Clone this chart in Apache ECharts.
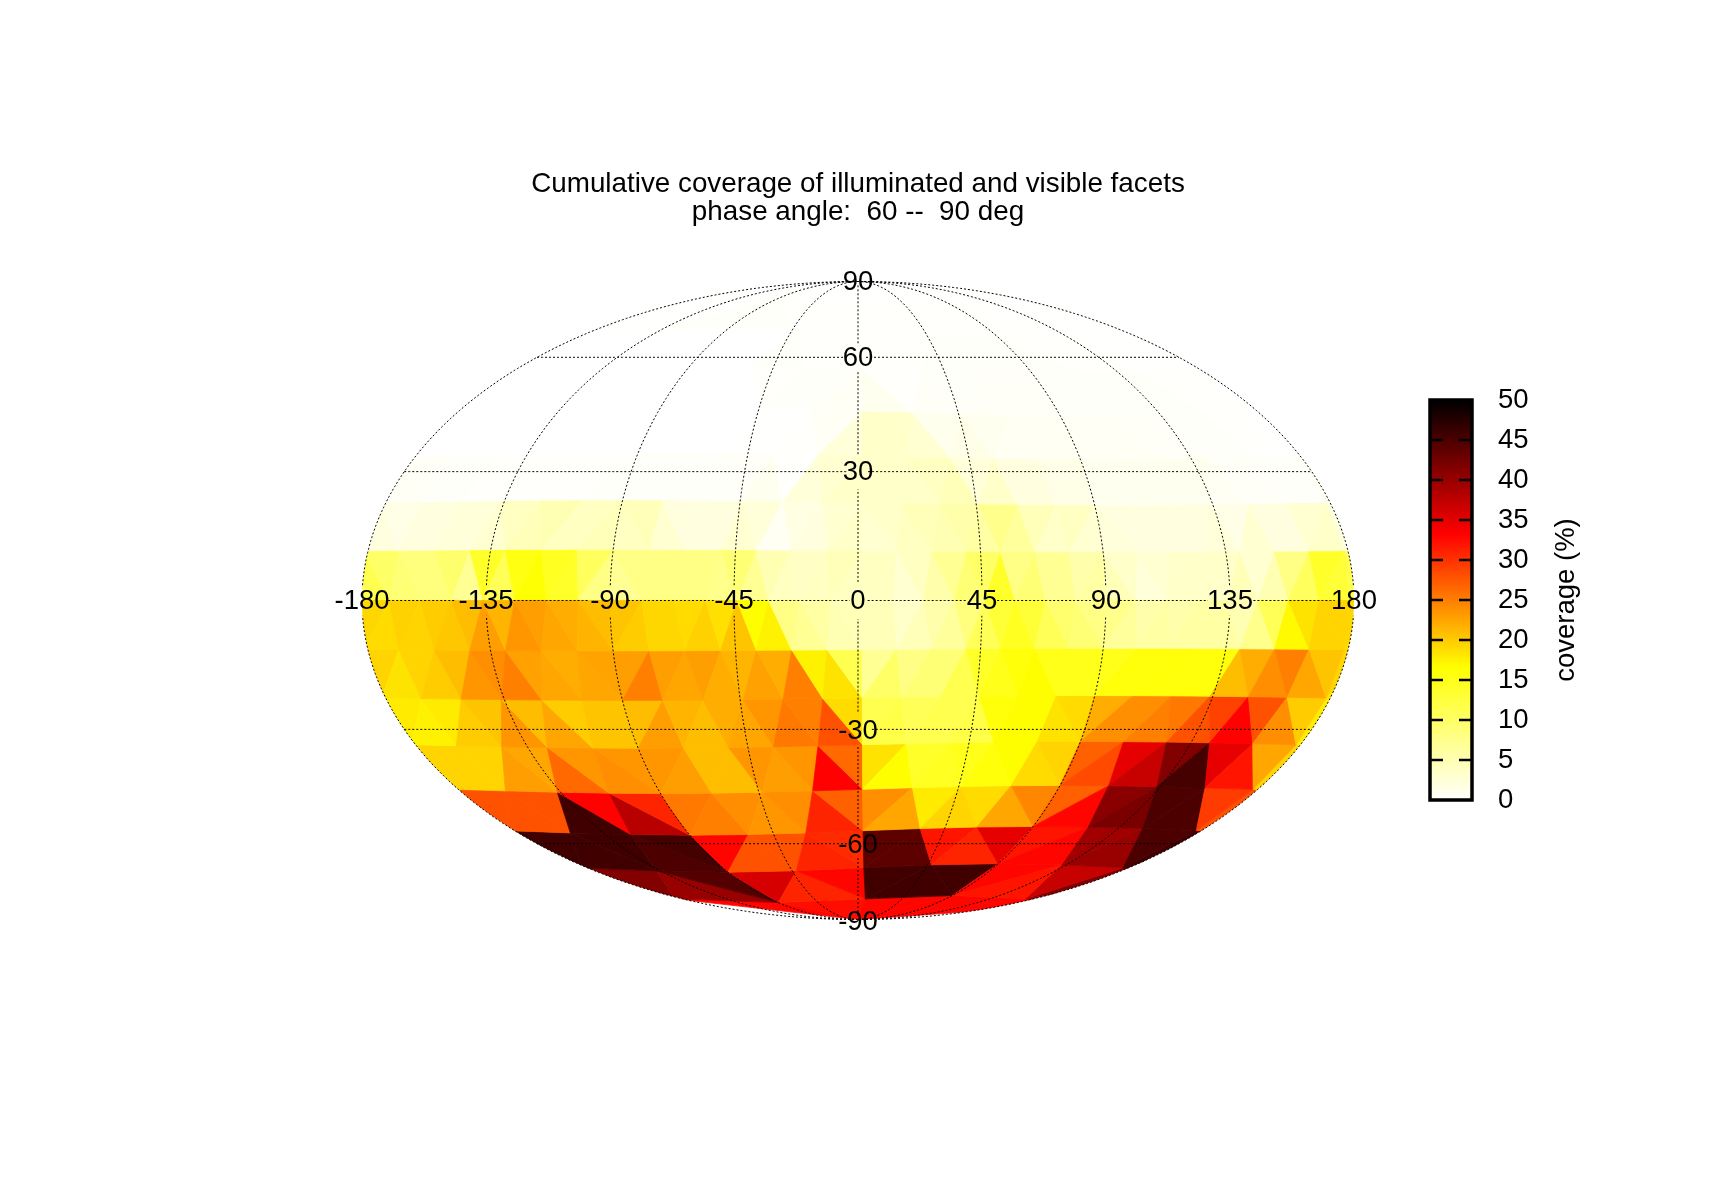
<!DOCTYPE html>
<html><head><meta charset="utf-8">
<style>html,body{margin:0;padding:0;background:#fff}#c{width:1716px;height:1200px}</style>
<script src="https://cdn.jsdelivr.net/npm/echarts@6/dist/echarts.min.js"></script>
</head><body><div id="c"></div>
<script>
// Facet coverage (%), by latitude band (k = 1 at the pole ... 8 at the equator), west to east.
const north1=[.1,.1,.1,.1];
const north2=[.1,.1,.4, .3,.2,.2, .2,.2,.2, .2,.1,.1];
const north3=[0,0,0,0,0, 0,0,.3,.2,.2, .2,.2,.3,.4,.4, .3,.2,.2,.1,.1];
const north4=[0,0,0,0,0,0,0, 0,0,0,.2,.3,.4,.6, 1,.2,.5,.3,.5,.5,.5, .4,.4,.4,.3,.3,.2,.2];
const north5=[0,0,0,0,0,0,0,0,0, 0,0,0,0,.1,.1,.2,.6,2.5, 3.5,3.5,3,1.2,1.5,1,.8,.7,.7, .6,.6,.6,.5,.5,.4,.3,.2,.1];
const north6=[.6,.5,.3,.3,.2,.2,.2,.2,.2,.2,.3, .3,.3,.3,.3,.4,.5,1,.2,2.5,3,3.5, 3.5,3.5,3.5,4,4.5,2.5,3.5,2,2,1.5,1.5, 1,1,1,1,1,1,.8,.5,.5,.3,.3];
const north7=[2,1.5,2,2,2.5,2.5,3,4,4.5,5,4,4,4.5, 4,4.5,3,2,2,2,3,2.5,.7,1.8,2,3,3.5, 3,3.5,4,4.5,5,5.5,6,7.5,6.5,4.5,3.5,4,3, 2.5,2,2,2,2,2,2.5,1.5,3,2,2,3,3.5];
const north8=[11.5,10,9,8.5,8.5,9.5,7,14,11,15.5,16.5,14.5,14,10.5,8, 7,8,8,8,8,8,7.5,9,7,5,4,3.8,4,4.5,4, 4,4,3,4,5.5,7,9,10,14,8,9,7,7,5.5,6, 4.5,3.5,2.5,3,3.5,3.5,3.5,3.5,4.5,3,5,8,10.5,14,13];
const south8=[19.3,19,19.7,19.5,20,20.3,21,23,21.5,23.5,23,22.5,22,21.5,21, 20.5,20,19.3,19.3,19,19.7,18.7,20.5,16.7,17.5,8,7,6,5,4.7, 4.5,4.5,3.5,4.5,5.5,6.5,8.5,11,13,14.5,13,11,9.5,9,8, 7.5,6.5,5.5,6,5.5,6,6,6,5,7.5,11,17,18.5,19.5,19.5];
const south7=[19.5,18.5,19.5,20,21,23.5,24,25,22.8,22.5,22,22.5,22.7, 23,25,23,22.5,23,22,21.5,22.8,22,25,17.5,18.5,11.5, 7,10,8,9,9,11.5,14,15,16,16.7,15,15,15, 15,16,16,16,16,16,16,21,22,24,25,22.5,20.5];
const south6=[18,17.5,18,20,20.5,23.5,21,22.5,20,20.5,20.5, 21,23,21.5,21,22,22.5,23.5,25.5,25,28,19, 11.5,12,11,11.5,11.5,12,16,16.7,16.7,18.5,19, 22,24,24,25,25.5,28,29,33.3,28,24,20];
const south5=[19.5,19.5,19.5,23,22.5,26.5,23.5,24,23.5, 23.5,23,21,21,23.5,23,23.5,33.3,26.5, 18.5,16.7,14,14.5,15,16,16.7,19,19.5, 27,28.5,35,37,41.5,45.5,35,32,22.5];
const south4=[28,28,28,45.8,33.3,38,31, 25.5,25,24,23.5,24,31,27, 24,22.5,18,19.5,19,22.5,24.5, 27,33,41,42,45,45,29.5];
const south3=[45.8,45.8,45.8,45,45.5, 33,28,28,31,30.5, 44,44,32,31,35, 32,33,39.5,40,45];
const south2=[41.5,40,44.5, 36,31,33, 45.8,45.8,45.8, 33,32,37];
const south1=[33,32.5,33,33];
const northBands=[north1,north2,north3,north4,north5,north6,north7,north8];
const southBands=[south1,south2,south3,south4,south5,south6,south7,south8];

const titleLines=['Cumulative coverage of illuminated and visible facets','phase angle:  60 --  90 deg'];
const lonTicks=[-180,-135,-90,-45,0,45,90,135,180];
const latTicks=[90,60,30,-30,-60,-90];
const parallels=[60,30,0,-30,-60];
const meridians=[-180,-135,-90,-45,0,45,90,135,180];
const colorTicks=[0,5,10,15,20,25,30,35,40,45,50];
const colorName='coverage (%)';
const meshOffset=0.026; // the facet mesh centre sits slightly off the map centre

const D=Math.PI/180, XM=2*Math.SQRT2, YM=Math.SQRT2;
function thetaOf(lat){
  if(Math.abs(lat)>=90) return Math.sign(lat)*Math.PI/2;
  const t=Math.PI*Math.sin(lat*D); let a=lat*D;
  for(let i=0;i<60;i++){const f=2*a+Math.sin(2*a)-t, d=2+2*Math.cos(2*a); if(Math.abs(d)<1e-9)break; a-=f/d; a=Math.max(-Math.PI/2,Math.min(Math.PI/2,a));}
  return a;
}
function moll(lon,lat){const a=thetaOf(lat);return [XM*(lon/180)*Math.cos(a),YM*Math.sin(a)];}
function shift(lon,lat){
  const x=Math.cos(lat*D)*Math.cos(lon*D),y=Math.cos(lat*D)*Math.sin(lon*D)+meshOffset,z=Math.sin(lat*D);
  let l=Math.atan2(y,x)/D; while(l-lon>180)l-=360; while(l-lon<-180)l+=360;
  return [l,Math.atan2(z,Math.hypot(x,y))/D];
}
function vert(k,i,sign){ // ring k, vertex i
  const lat=sign*(90-11.25*k);
  if(k===0) return [0,lat];
  return shift(-180+i*90/k,lat);
}
const triangles=[];
function pushTri(a,b,c,v){
  const lo=Math.min(a[0],b[0],c[0]),hi=Math.max(a[0],b[0],c[0]);
  [0,360,-360].forEach(sh=>{
    if(sh===360&&lo>=-180)return; if(sh===-360&&hi<=180)return;
    const p=moll(a[0]+sh,a[1]),q=moll(b[0]+sh,b[1]),r=moll(c[0]+sh,c[1]);
    triangles.push([p[0],p[1],q[0],q[1],r[0],r[1],v]);
  });
}
[[northBands,1],[southBands,-1]].forEach(([bands,sign])=>{
  bands.forEach((vals,bi)=>{
    const k=bi+1;let n=0;
    for(let q=0;q<4;q++)for(let j=0;j<k;j++){
      const e0=vert(k,q*k+j,sign),e1=vert(k,q*k+j+1,sign);
      const p0=vert(k-1,q*(k-1)+j,sign);
      pushTri(e0,e1,p0,vals[n++]);
      if(j<k-1){const p1=vert(k-1,q*(k-1)+j+1,sign);pushTri(p0,p1,e1,vals[n++]);}
    }
  });
});
function hot(v){
  const t=Math.max(0,Math.min(1,v/50))*3; let r,g,b;
  if(t<1){r=1;g=1;b=1-t;} else if(t<2){r=1;g=2-t;b=0;} else {r=3-t;g=0;b=0;}
  return `rgb(${Math.round(r*255)},${Math.round(g*255)},${Math.round(b*255)})`;
}
// graticule: broken where a tick label sits
const eqBreaks=[[-180,-170.6],[-145.9,-125.2],[-97.3,-83.5],[-51.9,-38.1],[-2.9,3.3],[39.6,50.4],[84.9,95],[127,143.4],[173,180]];
const latBreaks={'60':[-5.5,4.5],'30':[-4.5,4],'-30':[-8,5.5],'-60':[-6,3]};
function parallelLine(lat){
  const o=[];
  for(let l=-180;l<=180;l+=0.5){
    const gap = lat===0 ? eqBreaks.some(g=>l>g[0]&&l<g[1]) : (l>latBreaks[lat][0]&&l<latBreaks[lat][1]);
    o.push(gap?[null,null]:moll(l,lat));
  }
  return o;
}
function meridianLine(lon){
  const o=[];
  for(let p=-90;p<=90;p+=0.25){
    let gap;
    if(lon===0) gap=[90,60,30,0,-30,-60,-90].some(t=>Math.abs(p-t)<(Math.abs(t)>=90?3:4.2));
    else gap=Math.abs(p)<3.3;
    o.push(gap?[null,null]:moll(lon,p));
  }
  return o;
}
const dotted={color:'#000',width:1,type:[2,2]};
const lineSeries=[];
parallels.forEach(l=>lineSeries.push({type:'line',data:parallelLine(l),symbol:'none',lineStyle:dotted,silent:true,z:5,connectNulls:false}));
meridians.forEach(l=>lineSeries.push({type:'line',data:meridianLine(l),symbol:'none',lineStyle:dotted,silent:true,z:5,connectNulls:false}));
const tickLabels=lonTicks.map(l=>({value:[...moll(l,0),String(l)]}))
  .concat(latTicks.map(l=>({value:[...moll(0,l),String(l)],label:{offset:[0,l===-90?3:(l<0?2:1)]}})));
const barLevels=[];for(let i=0;i<200;i++)barLevels.push(i*0.25);

const FS=27.5, FF='"Liberation Sans",Helvetica,Arial,sans-serif';
const chart=echarts.init(document.getElementById('c'),null,{renderer:'canvas',width:1716,height:1200});
chart.setOption({
  animation:false,backgroundColor:'#fff',
  title:{text:titleLines.join('\n'),left:853,top:165,textAlign:'center',
    textStyle:{fontFamily:FF,fontSize:27.8,fontWeight:'normal',color:'#000',lineHeight:28}},
  grid:[
    {left:362,top:281.5,width:992,height:638,show:false},
    {left:1430,top:400,width:42,height:400,show:true,borderColor:'#000',borderWidth:3.5,backgroundColor:'transparent',z:6}
  ],
  xAxis:[
    {gridIndex:0,type:'value',min:-XM,max:XM,show:false},
    {gridIndex:1,type:'value',min:0,max:1,show:false}
  ],
  yAxis:[
    {gridIndex:0,type:'value',min:-YM,max:YM,show:false},
    {gridIndex:1,type:'value',min:0,max:50,interval:5,position:'right',
     axisLine:{show:false},axisTick:{show:false},
     axisLabel:{show:true,margin:26,fontFamily:FF,fontSize:FS,color:'#000',padding:[4,0,0,0],
       verticalAlignMinLabel:'middle',verticalAlignMaxLabel:'middle',
       customValues:colorTicks,formatter:v=>String(v)},
     splitLine:{show:false},
     name:colorName,nameLocation:'middle',nameRotate:90,nameGap:80,
     nameTextStyle:{fontFamily:FF,fontSize:FS,color:'#000'},z:7}
  ],
  series:[
    {type:'custom',xAxisIndex:0,yAxisIndex:0,data:triangles,coordinateSystem:'cartesian2d',silent:true,z:1,
     encode:{x:0,y:1},
     renderItem:(p,api)=>{
       const c0=api.coord([0,0]),cx=api.coord([XM,YM]);
       const a=api.coord([api.value(0),api.value(1)]),b=api.coord([api.value(2),api.value(3)]),d=api.coord([api.value(4),api.value(5)]);
       const col=hot(api.value(6));
       return {type:'polygon',shape:{points:[a,b,d]},style:{fill:col,stroke:col,lineWidth:0.8},
         clipPath:{type:'ellipse',shape:{cx:c0[0],cy:c0[1],rx:cx[0]-c0[0],ry:c0[1]-cx[1]}}};
     }},
    ...lineSeries,
    {type:'scatter',xAxisIndex:0,yAxisIndex:0,data:tickLabels,symbolSize:0,silent:true,z:8,itemStyle:{opacity:1},
     label:{show:true,position:'inside',offset:[0,1],fontFamily:FF,fontSize:FS,color:'#000',opacity:1,formatter:p=>p.value[2]}},
    {type:'custom',xAxisIndex:1,yAxisIndex:1,data:barLevels.map(v=>[0,v]),silent:true,z:2,encode:{x:0,y:1},
     renderItem:(p,api)=>{
       const v=api.value(1),a=api.coord([0,v+0.25]),b=api.coord([1,v]);
       return {type:'rect',shape:{x:a[0],y:a[1],width:b[0]-a[0],height:b[1]-a[1]+0.5},style:{fill:hot(v+0.125)}};
     }},
    {type:'custom',xAxisIndex:1,yAxisIndex:1,data:colorTicks.filter(v=>v>0&&v<50).map(v=>[0,v]),silent:true,z:7,encode:{x:0,y:1},
     renderItem:(p,api)=>{
       const v=api.value(1),a=api.coord([0,v]),b=api.coord([1,v]);
       const st={stroke:'#000',lineWidth:2.5};
       return {type:'group',children:[
         {type:'line',shape:{x1:a[0],y1:a[1],x2:a[0]+13,y2:a[1]},style:st},
         {type:'line',shape:{x1:b[0]-13,y1:b[1],x2:b[0],y2:b[1]},style:st}]};
     }}
  ]
});
</script></body></html>
